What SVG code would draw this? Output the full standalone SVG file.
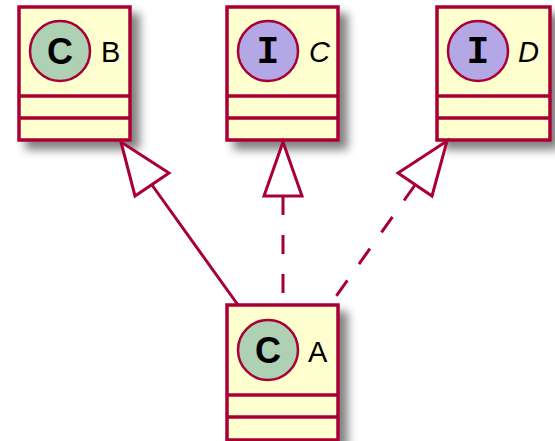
<svg xmlns="http://www.w3.org/2000/svg" width="555" height="441" viewBox="0 0 555 441">
<defs>
<filter id="sh" x="-20%" y="-20%" width="160%" height="160%">
<feGaussianBlur in="SourceAlpha" stdDeviation="5"/>
<feOffset dx="8" dy="8" result="b"/>
<feComponentTransfer><feFuncA type="linear" slope="0.5"/></feComponentTransfer>
<feMerge><feMergeNode/><feMergeNode in="SourceGraphic"/></feMerge>
</filter>
</defs>
<style>
.box{fill:#FEFECE;stroke:#A80036;stroke-width:3.5}
.sep{stroke:#A80036;stroke-width:3.5}
.circ{stroke:#A80036;stroke-width:2.5}
.cls{fill:#ADD1B2}
.ifc{fill:#B4A7E5}
.name{font-family:"Liberation Sans",Arial,sans-serif;font-size:29px;fill:#000}
.it{font-style:italic}
.lc{font-family:"Liberation Sans",Arial,sans-serif;font-weight:bold;font-size:36px;fill:#000;text-anchor:middle}
.li{font-family:"Liberation Mono","Courier New",monospace;font-weight:bold;font-size:38px;fill:#000;text-anchor:middle}
.edge{fill:none;stroke:#A80036;stroke-width:3}
.dash{stroke-dasharray:19,20}
.head{fill:#FFFFFF;stroke:#A80036;stroke-width:3;stroke-linejoin:miter}
</style>
<g id="B">
<rect class="box" x="19" y="7" width="111" height="133" filter="url(#sh)"/>
<line class="sep" x1="19" y1="96" x2="130" y2="96"/>
<line class="sep" x1="19" y1="118" x2="130" y2="118"/>
<circle class="circ cls" cx="60" cy="51" r="30"/>
<text class="lc" x="60" y="64">C</text>
<text class="name" x="101" y="62">B</text>
</g>
<g id="C">
<rect class="box" x="227" y="7" width="111" height="133" filter="url(#sh)"/>
<line class="sep" x1="227" y1="96" x2="338" y2="96"/>
<line class="sep" x1="227" y1="118" x2="338" y2="118"/>
<circle class="circ ifc" cx="268" cy="51" r="30"/>
<text class="li" x="268" y="63">I</text>
<text class="name it" x="309" y="62">C</text>
</g>
<g id="D">
<rect class="box" x="437" y="7" width="113" height="133" filter="url(#sh)"/>
<line class="sep" x1="437" y1="96" x2="550" y2="96"/>
<line class="sep" x1="437" y1="118" x2="550" y2="118"/>
<circle class="circ ifc" cx="478" cy="51" r="30"/>
<text class="li" x="478" y="63">I</text>
<text class="name it" x="518" y="62">D</text>
</g>
<g id="A">
<rect class="box" x="227" y="305" width="111" height="135" filter="url(#sh)"/>
<line class="sep" x1="227" y1="395" x2="338" y2="395"/>
<line class="sep" x1="227" y1="417" x2="338" y2="417"/>
<circle class="circ cls" cx="268" cy="350" r="30"/>
<text class="lc" x="268" y="363">C</text>
<text class="name" x="308" y="362">A</text>
</g>
<g id="connectors">
<path class="edge" d="M152,185 L238,305"/>
<polygon class="head" points="121,142 135,196 169,173"/>
<path class="edge dash" d="M283,196 L283,305"/>
<polygon class="head" points="283,142 264,196 302,196"/>
<path class="edge dash" d="M415,185 L330,305"/>
<polygon class="head" points="447,141 398,173 432,196"/>
</g>
</svg>
